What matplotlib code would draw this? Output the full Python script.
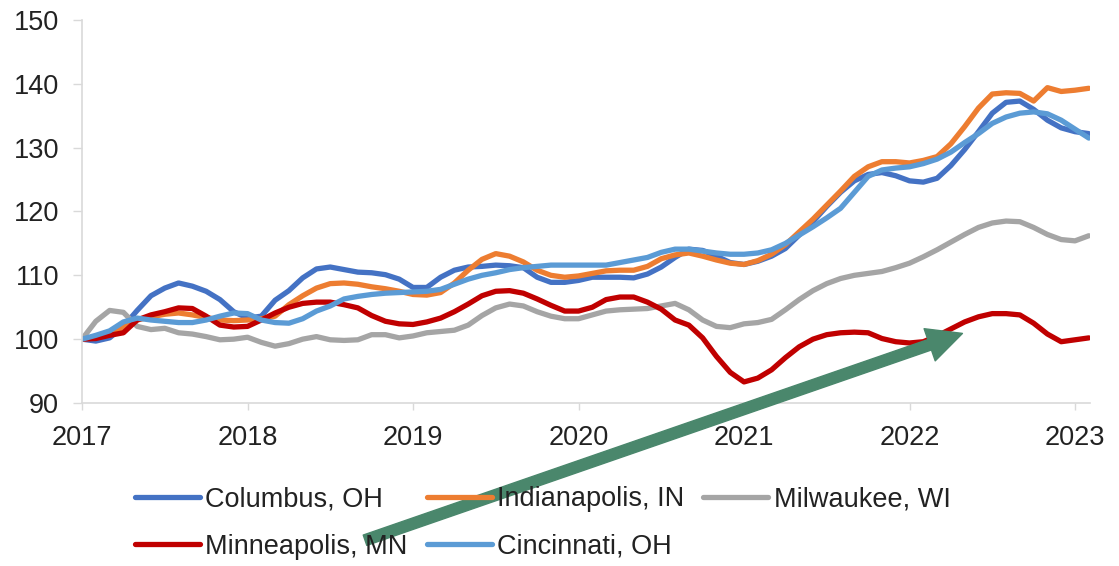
# ============= Imports ===================

import matplotlib
matplotlib.use("Agg")
import matplotlib.pyplot as plt

# =========== Data (monthly, Jan 2017 - Feb 2023) ==================

months = list(range(74))

columbus = [100, 99.7, 100.2, 102, 104.5, 106.8, 108, 108.8, 108.3, 107.5, 106.2, 104.3,
            103.3, 103.6, 106.1, 107.6, 109.6, 111, 111.3, 110.9, 110.5, 110.4, 110.1, 109.4,
            108.1, 108.1, 109.7, 110.8, 111.3, 111.4, 111.6, 111.5, 111.2, 109.7, 108.9, 108.9,
            109.2, 109.7, 109.7, 109.7, 109.6, 110.2, 111.3, 112.8, 114.1, 113.9, 113, 112,
            111.7, 112.2, 113, 114.2, 116.3, 118.4, 120.8, 123, 124.8, 125.8, 126.1, 125.6,
            124.8, 124.6, 125.2, 127.2, 129.7, 132.5, 135.4, 137.1, 137.3, 136, 134.3, 133.1,
            132.5, 132.2]

indianapolis = [100, 100.3, 100.8, 101.8, 103, 103.5, 103.9, 104.1, 103.8, 103.4, 103, 102.9,
                103, 103.2, 103.6, 105.4, 106.8, 108, 108.7, 108.8, 108.6, 108.2, 107.9, 107.5,
                107, 106.9, 107.3, 108.8, 110.8, 112.5, 113.4, 113, 112.1, 110.8, 110, 109.7,
                109.9, 110.3, 110.7, 110.8, 110.8, 111.4, 112.6, 113.2, 113.5, 113, 112.4, 111.9,
                111.7, 112.3, 113.3, 114.8, 116.8, 118.8, 121, 123.2, 125.5, 127, 127.8, 127.8,
                127.6, 128, 128.6, 130.6, 133.3, 136.2, 138.4, 138.6, 138.5, 137.3, 139.4, 138.8,
                139, 139.3]

milwaukee = [100, 102.8, 104.5, 104.2, 102, 101.5, 101.7, 101, 100.8, 100.4, 99.9, 100,
             100.3, 99.5, 98.9, 99.3, 100, 100.4, 99.9, 99.8, 99.9, 100.7, 100.7, 100.2,
             100.5, 101, 101.2, 101.4, 102.2, 103.7, 104.9, 105.5, 105.2, 104.3, 103.6, 103.2,
             103.2, 103.8, 104.4, 104.6, 104.7, 104.8, 105.2, 105.6, 104.6, 103, 102, 101.8,
             102.4, 102.6, 103.1, 104.6, 106.2, 107.6, 108.7, 109.5, 110, 110.3, 110.6, 111.2,
             111.9, 112.9, 114, 115.2, 116.4, 117.5, 118.2, 118.5, 118.4, 117.5, 116.4, 115.6,
             115.4, 116.2]

minneapolis = [100, 100.1, 100.6, 101, 103, 103.8, 104.3, 104.9, 104.8, 103.6, 102.2, 101.9,
               102, 103, 104.1, 105, 105.6, 105.8, 105.8, 105.4, 104.9, 103.7, 102.8, 102.4,
               102.3, 102.7, 103.3, 104.3, 105.5, 106.8, 107.5, 107.6, 107.2, 106.3, 105.3, 104.4,
               104.4, 105, 106.2, 106.6, 106.6, 105.8, 104.7, 103, 102.2, 100.2, 97.3, 94.8,
               93.3, 93.9, 95.2, 97.1, 98.8, 100, 100.7, 101, 101.1, 101, 100.1, 99.6,
               99.4, 99.6, 100.5, 101.6, 102.7, 103.5, 104, 104, 103.8, 102.5, 100.8, 99.6,
               99.9, 100.2]

cincinnati = [100, 100.6, 101.3, 102.7, 103.3, 103, 102.8, 102.6, 102.6, 103, 103.6, 104.1,
              104, 103, 102.6, 102.5, 103.2, 104.4, 105.2, 106.3, 106.7, 107, 107.2, 107.3,
              107.4, 107.5, 107.8, 108.6, 109.4, 110, 110.4, 110.9, 111.2, 111.4, 111.6, 111.6,
              111.6, 111.6, 111.6, 112, 112.4, 112.8, 113.6, 114.1, 114.1, 113.8, 113.5, 113.3,
              113.3, 113.5, 114, 115, 116.3, 117.6, 119, 120.5, 123, 125.5, 126.5, 126.8,
              127, 127.5, 128.2, 129.3, 130.8, 132.2, 133.8, 134.8, 135.4, 135.6, 135.3, 134.3,
              132.9, 131.5]

series = [
    ("Columbus, OH", columbus, "#4472C4"),
    ("Indianapolis, IN", indianapolis, "#ED7D31"),
    ("Milwaukee, WI", milwaukee, "#A5A5A5"),
    ("Minneapolis, MN", minneapolis, "#C00000"),
    ("Cincinnati, OH", cincinnati, "#5B9BD5"),
]

year_ticks = [2017, 2018, 2019, 2020, 2021, 2022, 2023]
y_ticks = [90, 100, 110, 120, 130, 140, 150]

# ========== Plot ===============

plt.rcParams['font.family'] = ['Liberation Sans', 'DejaVu Sans']
txt_color = "#222222"
axis_color = "#D9D9D9"

fig = plt.figure(figsize=(11.19, 5.66), dpi=100)
ax = fig.add_axes([0.0733, 0.288, 0.9007, 0.6767])

x = [2017 + m / 12 for m in months]
lines = {}
for name, vals, col in series:
    ln, = ax.plot(x, vals, color=col, lw=3.8, label=name, solid_capstyle='round')
    lines[name] = ln

ax.set_xlim(2017, 2023.09)
ax.set_ylim(90, 150)
ax.set_xticks(year_ticks)
ax.set_xticklabels([str(y) for y in year_ticks])
ax.set_yticks(y_ticks)

for s in ["top", "right"]:
    ax.spines[s].set_visible(False)
for s in ["left", "bottom"]:
    ax.spines[s].set_color(axis_color)
    ax.spines[s].set_linewidth(1.2)

ax.tick_params(axis='y', length=6.5, width=1, color=axis_color, pad=10,
               labelsize=19.5, labelcolor=txt_color)
ax.tick_params(axis='x', length=5, width=1, color=axis_color, pad=11,
               labelsize=19.5, labelcolor=txt_color)

# legend: columns filled top to bottom, so reorder
order = ["Columbus, OH", "Minneapolis, MN", "Indianapolis, IN", "Cincinnati, OH", "Milwaukee, WI"]
leg = fig.legend([lines[n] for n in order], order, ncol=3, loc='center left',
                 bbox_to_anchor=(0.1206, 0.076), frameon=False, fontsize=19.5,
                 handlelength=2.4, handletextpad=0.2, columnspacing=0.7,
                 labelspacing=0.8, borderpad=0, borderaxespad=0)
for t in leg.get_texts():
    t.set_color(txt_color)

# green arrow pointing at Minneapolis
ax.annotate("", xy=(2022.32, 100.9), xytext=(2018.71, 68.5),
            xycoords='data', textcoords='data', annotation_clip=False,
            arrowprops=dict(arrowstyle="simple,head_length=25,head_width=24.5,tail_width=7.9",
                            mutation_scale=1, color="#4A876C", shrinkA=0, shrinkB=0),
            zorder=10)

plt.savefig("out.png", dpi=100)
